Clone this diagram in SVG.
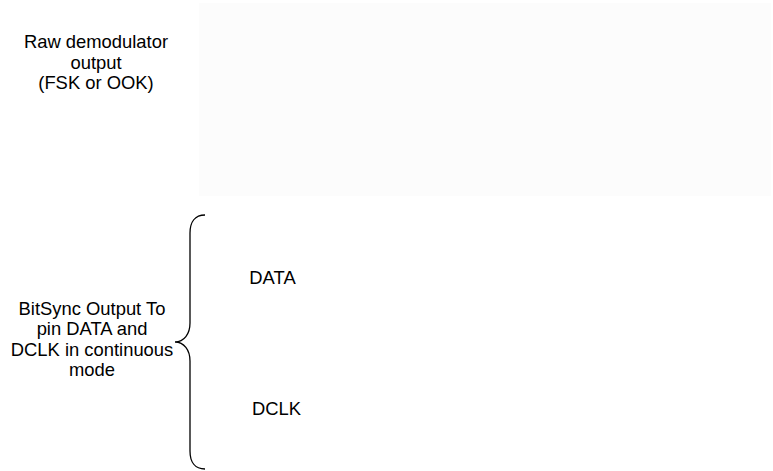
<svg xmlns="http://www.w3.org/2000/svg" width="773" height="471" viewBox="0 0 773 471">
<style>
.t{font-family:"Liberation Sans",Arial,sans-serif;font-size:18.4px;fill:#000;text-anchor:middle}
.br{fill:none;stroke:#000;stroke-width:1.3}
</style>
<rect width="773" height="471" fill="#fff"/>
<g id="plot-area"><rect x="199" y="3" width="572" height="193" fill="#fcfcfc"/></g>
<g id="raw-label"><text class="t" x="96" y="48"><tspan x="96">Raw demodulator</tspan><tspan x="96" dy="20.5">output</tspan><tspan x="96" dy="20.5">(FSK or OOK)</tspan></text></g>
<g id="bitsync-label"><text class="t" x="92" y="315"><tspan x="92">BitSync Output To</tspan><tspan x="92" dy="20.3">pin DATA and</tspan><tspan x="92" dy="20.3">DCLK in continuous</tspan><tspan x="92" dy="20.3">mode</tspan></text></g>
<g id="connectors"><path class="br" d="M205,215 C195,215 190,222 190,233 L190,323 C190,334 184,342 175,342 C184,342 190,350 190,361 L190,451 C190,462 195,469 205,469"/></g>
<g id="data-label"><text class="t" x="272.5" y="284">DATA</text></g>
<g id="dclk-label"><text class="t" x="276.5" y="415">DCLK</text></g>
</svg>
